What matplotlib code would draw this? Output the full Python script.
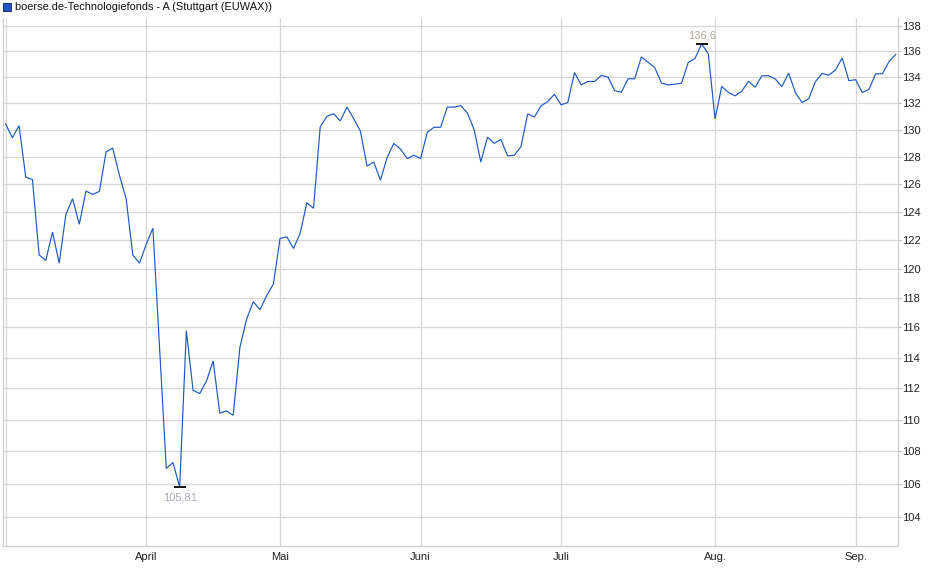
import matplotlib
matplotlib.use("Agg")
import matplotlib.pyplot as plt
from matplotlib.patches import Rectangle
from matplotlib.ticker import FixedLocator, NullLocator, NullFormatter

plt.rcParams['font.family'] = ['Liberation Sans', 'DejaVu Sans']

title = "boerse.de-Technologiefonds - A (Stuttgart (EUWAX))"

prices = [
    130.43, 129.39, 130.30, 126.49, 126.32, 120.94, 120.57, 122.55, 120.37, 123.81,
    124.93, 123.10, 125.48, 125.24, 125.45, 128.34, 128.63, 126.62, 124.93, 120.94,
    120.37, 121.70, 122.82, 114.60, 106.94, 107.31, 105.81, 115.78, 111.87, 111.66,
    112.46, 113.78, 110.40, 110.55, 110.27, 114.67, 116.56, 117.73, 117.19, 118.14,
    118.93, 122.10, 122.22, 121.40, 122.45, 124.64, 124.24, 130.20, 131.00, 131.20,
    130.66, 131.70, 130.83, 129.90, 127.30, 127.60, 126.27, 127.93, 128.97, 128.55,
    127.85, 128.10, 127.85, 129.80, 130.18, 130.18, 131.70, 131.70, 131.82, 131.25,
    130.00, 127.60, 129.44, 128.98, 129.27, 128.05, 128.10, 128.73, 131.18, 130.95,
    131.80, 132.12, 132.68, 131.87, 132.06, 134.35, 133.40, 133.66, 133.66, 134.13,
    134.00, 132.96, 132.83, 133.87, 133.87, 135.57, 135.14, 134.73, 133.53, 133.40,
    133.45, 133.53, 135.14, 135.44, 136.60, 135.80, 130.80, 133.28, 132.82, 132.56,
    132.92, 133.67, 133.22, 134.10, 134.10, 133.85, 133.27, 134.31, 132.81, 132.05,
    132.33, 133.65, 134.28, 134.15, 134.55, 135.48, 133.72, 133.80, 132.81, 133.05,
    134.25, 134.25, 135.20, 135.76,
]

month_labels = ["", "April", "Mai", "Juni", "Juli", "Aug.", "Sep."]
month_start_idx = [0, 21, 41, 62, 83, 106, 127]
y_ticks = list(range(104, 139, 2))

W, H = 940, 579
fig = plt.figure(figsize=(W / 100, H / 100), dpi=100)
left_px, right_px, top_px, bottom_px = 3, 898, 18, 546
ax = fig.add_axes([left_px / W, 1 - bottom_px / H,
                   (right_px - left_px) / W, (bottom_px - top_px) / H])

grid_c = '#d8d8d8'
x = list(range(len(prices)))

ax.set_yscale('log')
ax.set_ylim(102.27, 138.64)
ax.set_xlim(-0.4, len(prices) - 1 + 0.34)

for yt in y_ticks:
    ax.axhline(yt, color=grid_c, lw=0.9, zorder=1)
for xi in month_start_idx:
    ax.axvline(xi, color=grid_c, lw=0.9, zorder=1)

ax.plot(x, prices, color='#1c58c6', lw=0.85, zorder=3, solid_joinstyle='miter')

# min / max markers
i_min = prices.index(min(prices))
i_max = prices.index(max(prices))
ax.plot([i_min], [prices[i_min]], marker='_', ms=9, mew=1.3, color='black', zorder=4)
ax.plot([i_max], [prices[i_max]], marker='_', ms=9, mew=1.3, color='black', zorder=4)
ax.annotate("105,81", (i_min, prices[i_min]), xytext=(0, -7.5), textcoords='offset points',
            ha='center', va='center', fontsize=8, color='#a3a9b6')
ax.annotate("136,6", (i_max, prices[i_max]), xytext=(0, 5.8), textcoords='offset points',
            ha='center', va='center', fontsize=8, color='#b3aa9c')

ax.yaxis.set_major_locator(FixedLocator(y_ticks))
ax.yaxis.set_minor_locator(NullLocator())
ax.yaxis.set_minor_formatter(NullFormatter())
ax.set_yticklabels([str(v) for v in y_ticks])
ax.yaxis.tick_right()
ax.tick_params(axis='y', which='major', length=2, color='#bbbbbb', pad=1,
               labelsize=8, labelcolor='#222222')

ax.xaxis.set_major_locator(FixedLocator(month_start_idx))
ax.set_xticklabels(month_labels)
ax.tick_params(axis='x', which='major', length=0, pad=4, labelsize=8, labelcolor='#222222')

ax.spines['top'].set_visible(False)
for side in ['left', 'right', 'bottom']:
    ax.spines[side].set_color('#cfcfcf')
    ax.spines[side].set_linewidth(0.9)

# title with colored square
fig.patches.append(Rectangle((3 / W, 1 - 11 / H), 8 / W, 8 / H, transform=fig.transFigure,
                             facecolor='#1f55c4', edgecolor='#1b2f6e', lw=0.7))
fig.text(15 / W, 1 - 7 / H, title, ha='left', va='center', fontsize=7.95, color='#111111')

fig.savefig("out.png", dpi=100)
